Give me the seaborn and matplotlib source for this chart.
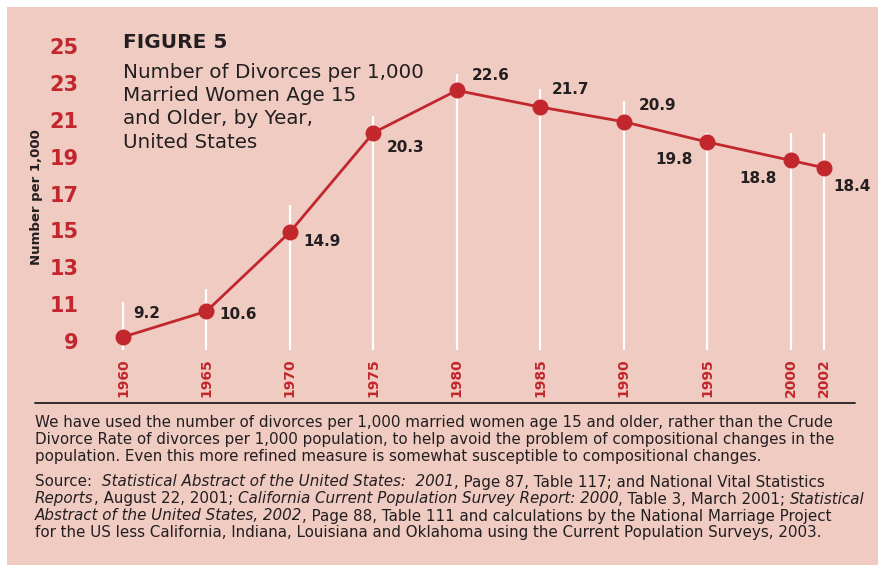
import matplotlib
matplotlib.use("Agg")
import matplotlib.pyplot as plt
from matplotlib.patches import Rectangle
from matplotlib.lines import Line2D
import seaborn as sns
import pandas as pd

# ---- data ----
years = [1960, 1965, 1970, 1975, 1980, 1985, 1990, 1995, 2000, 2002]
rates = [9.2, 10.6, 14.9, 20.3, 22.6, 21.7, 20.9, 19.8, 18.8, 18.4]
value_labels = ["9.2", "10.6", "14.9", "20.3", "22.6", "21.7", "20.9", "19.8", "18.8", "18.4"]
y_ticks = [9, 11, 13, 15, 17, 19, 21, 23, 25]
# decorative white stems: top in data units
stem_tops = [11.1, 11.8, 16.4, 21.2, 23.5, 22.7, 22.0, 20.3, 20.3, 20.3]

title = "FIGURE 5"
subtitle_lines = ["Number of Divorces per 1,000", "Married Women Age 15",
                  "and Older, by Year,", "United States"]
ylabel = "Number per 1,000"
note_lines = [
    "We have used the number of divorces per 1,000 married women age 15 and older, rather than the Crude",
    "Divorce Rate of divorces per 1,000 population, to help avoid the problem of compositional changes in the",
    "population. Even this more refined measure is somewhat susceptible to compositional changes.",
]
src_lines = [
    [("Source:  ", False), ("Statistical Abstract of the United States:  2001", True),
     (", Page 87, Table 117; and National Vital Statistics", False)],
    [("Reports", True), (", August 22, 2001; ", False),
     ("California Current Population Survey Report: 2000", True),
     (", Table 3, March 2001; ", False), ("Statistical", True)],
    [("Abstract of the United States, 2002", True),
     (", Page 88, Table 111 and calculations by the National Marriage Project", False)],
    [("for the US less California, Indiana, Louisiana and Oklahoma using the Current Population Surveys, 2003.", False)],
]

# ---- style ----
PINK = "#F0CBC2"
RED = "#C1272D"
DARK = "#231F20"
label_offsets = [(10, 24, "left"), (13, -3, "left"), (13, -9, "left"), (13, -15, "left"),
                 (15, 15, "left"), (11, 18, "left"), (15, 16, "left"),
                 (-14, -18, "right"), (-14, -18, "right"), (9, -19, "left")]

sns.set_theme(style="white")
plt.rcParams["font.family"] = ["DejaVu Sans"]

W, H = 882, 572
fig = plt.figure(figsize=(W / 100, H / 100), dpi=100, facecolor="white")
fig.patches.append(Rectangle((7 / W, 1 - 565 / H), 871 / W, 558 / H,
                             transform=fig.transFigure, facecolor=PINK, edgecolor="none", zorder=-10))

ax_l, ax_r, ax_t, ax_b = 95, 860, 30, 350
ax = fig.add_axes([ax_l / W, 1 - ax_b / H, (ax_r - ax_l) / W, (ax_b - ax_t) / H])
ax.set_facecolor("none")

df = pd.DataFrame({"year": years, "rate": rates})

ax.vlines(years, 8.0, stem_tops, color="white", lw=1.6, zorder=1)
sns.lineplot(data=df, x="year", y="rate", ax=ax, color=RED, lw=2.0,
             marker="o", markersize=11.5, markeredgewidth=0, zorder=3)

for x, y, lab, (dx, dy, ha) in zip(years, rates, value_labels, label_offsets):
    ax.annotate(lab, (x, y), xytext=(dx, dy), textcoords="offset pixels",
                ha=ha, va="center", fontsize=11, fontweight="bold", color=DARK)

px_per_year = (824 - 123) / 42
ax.set_xlim(1960 - (123 - ax_l) / px_per_year, 2002 + (ax_r - 824) / px_per_year)
px_per_unit = 18.4
y9 = 340.7
ax.set_ylim(9 - (ax_b - y9) / px_per_unit, 9 + (y9 - ax_t) / px_per_unit)

ax.set_xticks(years)
ax.set_xticklabels([str(y) for y in years], rotation=90, color=RED,
                   fontsize=10, fontweight="bold")
ax.set_yticks(y_ticks)
ax.set_yticklabels([str(t) for t in y_ticks], color=RED, fontsize=15, fontweight="bold")
ax.tick_params(axis="x", length=0, pad=6)
ax.tick_params(axis="y", length=0, pad=12)
ax.set_xlabel("")
ax.set_ylabel("")
for s in ax.spines.values():
    s.set_visible(False)
ax.grid(False)

fig.text(37 / W, 1 - 197 / H, ylabel, rotation=90, ha="center", va="center",
         fontsize=9.5, fontweight="bold", color=DARK)
fig.text(123 / W, 1 - 43 / H, title, ha="left", va="center", fontsize=14.5,
         fontweight="heavy", color=DARK)
for i, line in enumerate(subtitle_lines):
    fig.text(123 / W, 1 - (72 + i * 23.4) / H, line, ha="left", va="center",
             fontsize=14.3, color=DARK)

fig.add_artist(Line2D([35 / W, 855 / W], [1 - 403 / H, 1 - 403 / H],
                      transform=fig.transFigure, color=DARK, lw=1.3))

FS = 10.9
for i, line in enumerate(note_lines):
    fig.text(35 / W, 1 - (422 + i * 17.3) / H, line, ha="left", va="center",
             fontsize=FS, color=DARK)

fig.canvas.draw()
renderer = fig.canvas.get_renderer()
for i, segs in enumerate(src_lines):
    xpx = 35
    ypx = 482 + i * 17
    for txt, ital in segs:
        t = fig.text(xpx / W, 1 - ypx / H, txt, ha="left", va="center", fontsize=FS,
                     color=DARK, style="italic" if ital else "normal")
        bb = t.get_window_extent(renderer=renderer)
        xpx += bb.width

fig.savefig("out.png", dpi=100, facecolor="white")
